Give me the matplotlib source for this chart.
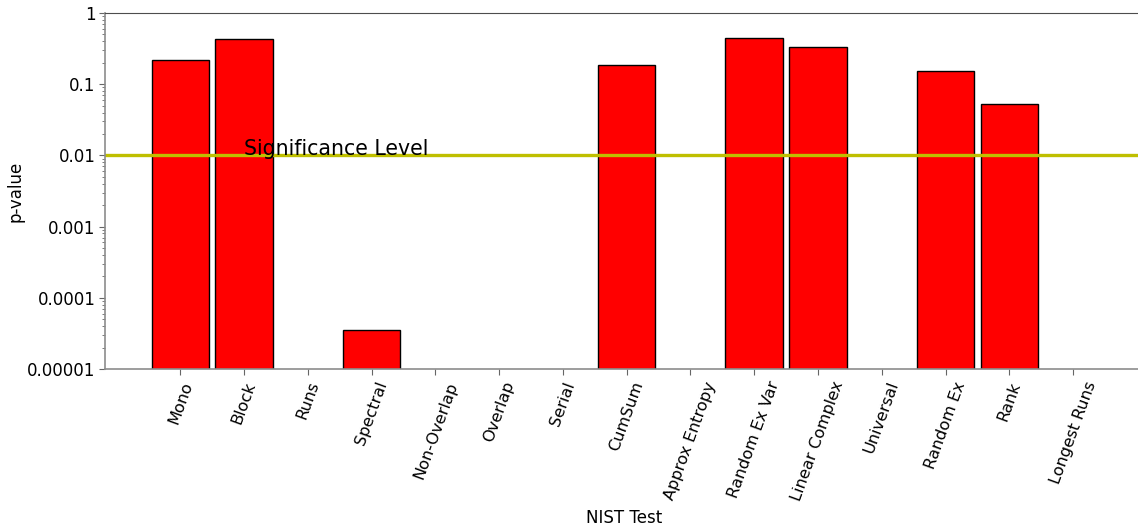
import numpy as np
import matplotlib
matplotlib.use('Agg')
import matplotlib.pyplot as plt

# ========== DATA ==========
tests = ['Mono', 'Block', 'Runs', 'Spectral', 'Non-Overlap', 'Overlap',
         'Serial', 'CumSum', 'Approx Entropy', 'Random Ex Var',
         'Linear Complex', 'Universal', 'Random Ex', 'Rank', 'Longest Runs']
p_values = [0.219, 0.426, 0.0, 3.42e-5, 0.0, 0.0,
            0.0, 0.186, 0.0, 0.446,
            0.333, 0.0, 0.153, 0.0527, 0.0]
significance = 0.01
y_ticks = [1e-5, 1e-4, 1e-3, 1e-2, 1e-1, 1]
y_tick_labels = ['0.00001', '0.0001', '0.001', '0.01', '0.1', '1']

# ========== PLOTTING ==========
fig = plt.figure(figsize=(11.38, 5.29), dpi=100)
ax = fig.add_axes([105 / 1138, 1 - 369 / 529, 1 - 105 / 1138 + 0.004, 356 / 529])

x = np.arange(len(tests))
ax.bar(x, p_values, width=0.9, color='r', edgecolor='k', linewidth=1.0,
       bottom=1e-6)
ax.set_yscale('log')
ax.set_ylim(1e-5, 1)
ax.set_xlim(-1.18, 15.09)

ax.axhline(significance, color='y', lw=2.4)
ax.text(1, significance, 'Significance Level', fontsize=14.8)

ax.set_yticks(y_ticks)
ax.set_yticklabels(y_tick_labels, fontsize=12)
ax.set_xticks(x)
ax.set_xticklabels(tests, rotation=70, fontsize=11.6)
ax.set_xlabel('NIST Test', fontsize=12)
ax.set_ylabel('p-value', fontsize=12)
ax.yaxis.set_label_coords(-0.078, 0.5)

for side in ['left', 'bottom']:
    ax.spines[side].set_color('0.55')
    ax.spines[side].set_linewidth(1.2)
ax.spines['top'].set_color('0.3')
ax.spines['right'].set_visible(False)
ax.tick_params(axis='both', which='both', color='0.4')
ax.tick_params(axis='x', length=4)
ax.tick_params(axis='y', which='major', length=4, pad=3)
ax.tick_params(axis='y', which='minor', length=2)

fig.savefig('out.png', dpi=100)
